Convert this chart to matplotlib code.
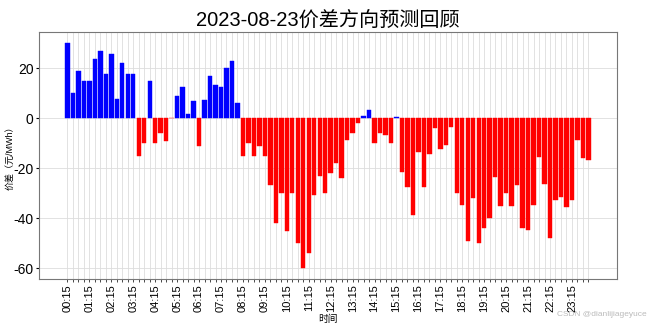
import numpy as np
import matplotlib
matplotlib.use('Agg')
import matplotlib.pyplot as plt

plt.rcParams['font.family'] = ['Liberation Sans', 'Noto Sans CJK SC', 'DejaVu Sans']
plt.rcParams['axes.unicode_minus'] = False

title = '2023-08-23价差方向预测回顾'

# 96 quarter-hour slots, 00:15 .. 24:00
times = []
for i in range(96):
    m = (i + 1) * 15
    times.append(f'{m // 60:02d}:{m % 60:02d}')

spread = [30, 10, 19, 15, 15, 23.6, 26.7, 17.6, 25.7, 7.7,
          21.9, 17.6, 17.6, -15, -10, 14.8, -10, -6, -9, 0,
          8.9, 12.5, 1.7, 6.9, -11.3, 7.3, 16.9, 13.3, 12.5, 20.1,
          22.9, 6, -15, -10, -15, -11, -15, -26.7, -42, -30,
          -45, -30, -49.7, -59.7, -53.7, -30.8, -22.9, -30, -22, -17.9,
          -23.9, -8.9, -6, -1.9, 0.9, 3.1, -10, -6, -6.9, -10,
          0.5, -21.6, -27.3, -38.8, -13.5, -27.3, -14.4, -4.1, -12.3, -10.9,
          -3.7, -29.9, -34.8, -48.9, -31.7, -49.7, -43.7, -40, -23.6, -35.2,
          -29.9, -34.9, -26.8, -43.9, -44.8, -34.8, -15.7, -26.3, -47.7, -32.7,
          -31.6, -35.5, -32.7, -8.7, -16, -16.9]

x = np.arange(len(times))
colors = ['blue' if v > 0 else 'red' for v in spread]

fig = plt.figure(figsize=(6.5, 3.25), dpi=100)
ax = fig.add_axes([0.06, 0.142, 0.889, 0.76])
ax.bar(x, spread, width=0.8, color=colors, edgecolor=colors, linewidth=0.3)

ax.set_xticks(x)
ax.set_xticklabels([t if i % 4 == 0 else '' for i, t in enumerate(times)],
                   rotation=90, fontsize=8)
ax.tick_params(axis='x', length=2, width=0.5, pad=2)
ax.tick_params(axis='y', labelsize=10, length=2, pad=2)
ax.grid(True, color='#dddddd', linewidth=0.6)
ax.set_axisbelow(True)

ax.set_title(title, fontsize=14.5, pad=4)
ax.set_ylabel('价差（元/MWh）', fontsize=6.5)
ax.yaxis.set_label_coords(-0.042, 0.5)
ax.set_xlabel('时间', fontsize=7, labelpad=1)
for s in ax.spines.values():
    s.set_color('#777777')

fig.text(0.995, 0.02, 'CSDN @dianlijiageyuce', ha='right', va='bottom',
         fontsize=6, color='#bbbbbb')

fig.savefig('out.png', dpi=100)
